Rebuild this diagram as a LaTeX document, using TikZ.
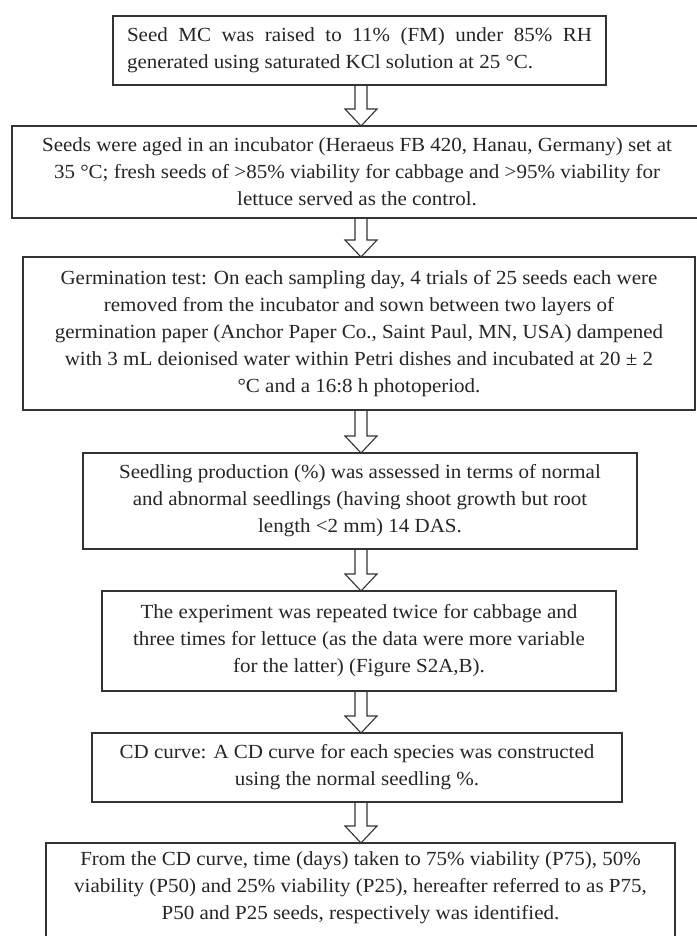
\documentclass[tikz,border=0pt]{standalone}
\usepackage{fontspec}
\setmainfont[FakeStretch=1.05]{Liberation Serif}
\usetikzlibrary{calc}
\definecolor{edge}{HTML}{333333}
\tikzset{
  box/.style={draw=edge, line width=1.2pt, fill=white, inner sep=0pt, outer sep=0pt,
    align=center, font={\fontsize{20}{27}\selectfont}, text=black!85},
  boxline/.style={draw=edge, line width=1.2pt},
  blockarrow/.style={draw=edge, line width=1.1pt, line join=miter}
}
\newcommand{\barrow}[2]{%
  \draw[blockarrow] let \p1=(#1.south), \p2=(#2.north) in
    (361pt-6pt,\y1) -- (361pt-6pt,\y2+17pt) -- (361pt-16pt,\y2+17pt) -- (361pt,\y2)
    -- (361pt+16pt,\y2+17pt) -- (361pt+6pt,\y2+17pt) -- (361pt+6pt,\y1);}
\begin{document}
\begin{tikzpicture}[x=1pt,y=-1pt]
\useasboundingbox (0,0) rectangle (696,936);
% box 1: 113..606, 16..85
\node[box, minimum width=493pt, minimum height=69pt, align=justify, text width=465pt] (b1) at (359.5,50.5)
  {Seed MC was raised to 11\% (FM) under 85\% RH\linebreak generated using saturated KCl solution at 25 °C.};
% box 2: 12..702, 126..218
\node[box, minimum width=690pt, minimum height=92pt] (b2) at (357,172)
  {Seeds were aged in an incubator (Heraeus FB 420, Hanau, Germany) set at\\
   35 °C; fresh seeds of >85\% viability for cabbage and >95\% viability for\\
   lettuce served as the control.};
% box 3: 23..695, 257..410
\node[box, minimum width=672pt, minimum height=153pt] (b3) at (359,333.5)
  {Germination test: On each sampling day, 4 trials of 25 seeds each were\\
   removed from the incubator and sown between two layers of\\
   germination paper (Anchor Paper Co., Saint Paul, MN, USA) dampened\\
   with 3 mL deionised water within Petri dishes and incubated at 20 ± 2\\
   °C and a 16:8 h photoperiod.};
% box 4: 83..637, 453..549
\node[box, minimum width=554pt, minimum height=96pt] (b4) at (360,501)
  {Seedling production (\%) was assessed in terms of normal\\
   and abnormal seedlings (having shoot growth but root\\
   length <2 mm) 14 DAS.};
% box 5: 102..616, 591..691
\node[box, minimum width=514pt, minimum height=100pt] (b5) at (359,641)
  {The experiment was repeated twice for cabbage and\\
   three times for lettuce (as the data were more variable\\
   for the latter) (Figure S2A,B).};
% box 6: 92..622, 733..802
\node[box, minimum width=530pt, minimum height=69pt] (b6) at (357,767.5)
  {CD curve: A CD curve for each species was constructed\\
   using the normal seedling \%.};
% box 7: 46..675, 843..(cut at page bottom)
\node[box, draw=none, minimum width=629pt, minimum height=90pt] (b7) at (360.5,888)
  {From the CD curve, time (days) taken to 75\% viability (P75), 50\%\\
   viability (P50) and 25\% viability (P25), hereafter referred to as P75,\\
   P50 and P25 seeds, respectively was identified.};
\draw[boxline] ([yshift=-10pt]b7.south west) -- (b7.north west) -- (b7.north east) -- ([yshift=-10pt]b7.south east);
\barrow{b1}{b2}
\barrow{b2}{b3}
\barrow{b3}{b4}
\barrow{b4}{b5}
\barrow{b5}{b6}
\barrow{b6}{b7}
\end{tikzpicture}
\end{document}
